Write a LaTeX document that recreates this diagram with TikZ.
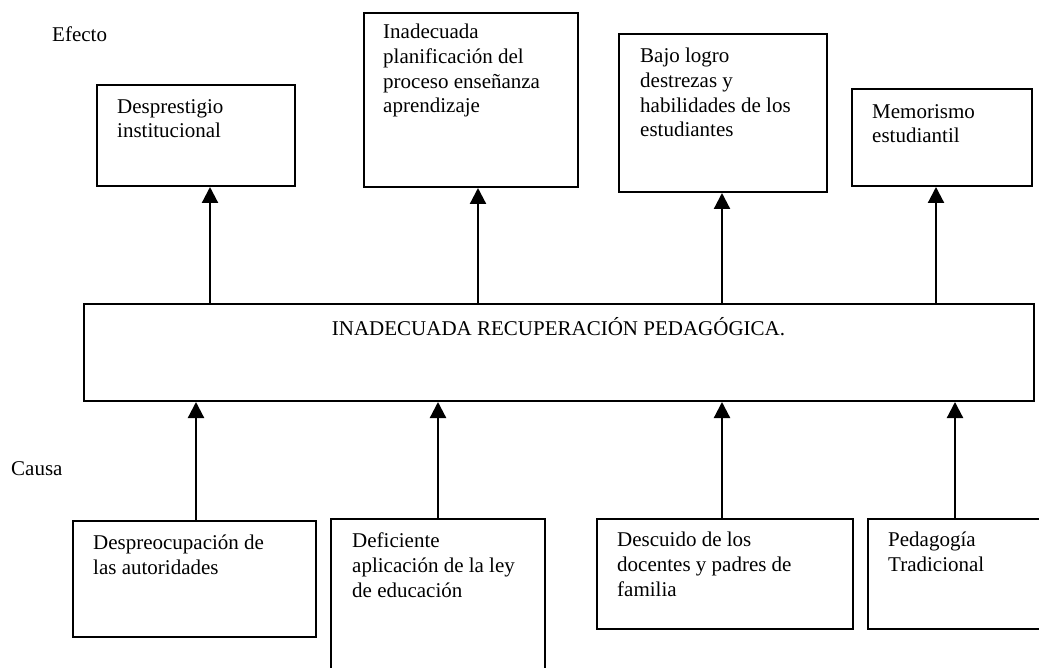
\documentclass[tikz,border=0pt]{standalone}
\usepackage{fontspec}
\setmainfont{Liberation Serif}
\usetikzlibrary{arrows.meta}
\tikzset{
  box/.style={draw, line width=2pt, inner sep=0, anchor=north west},
  txt/.style={font=\fontsize{21}{24.7}\selectfont, align=left, inner sep=0, anchor=base west},
  arr/.style={line width=2.2pt, -{Triangle[width=16pt,length=16pt]}}
}
\begin{document}
\begin{tikzpicture}[x=1pt,y=-1pt]
\useasboundingbox (0,0) rectangle (1039,668);
% labels
\node[txt] (efecto) at (52,42) {Efecto};
\node[txt] (causa) at (11,475) {Causa};
% top boxes (text nodes anchored at the baseline of their last line)
\node[box, minimum width=198, minimum height=101] (t1) at (96,84) {};
\node[txt] (t1t) at (117,138) {Desprestigio\\institucional};
\node[box, minimum width=214, minimum height=174] (t2) at (363,12) {};
\node[txt] (t2t) at (383,113) {Inadecuada\\planificación del\\proceso enseñanza\\aprendizaje};
\node[box, minimum width=208, minimum height=158] (t3) at (618,33) {};
\node[txt] (t3t) at (640,137) {Bajo logro\\destrezas y\\habilidades de los\\estudiantes};
\node[box, minimum width=180, minimum height=97] (t4) at (851,88) {};
\node[txt] (t4t) at (872,143) {Memorismo\\estudiantil};
% middle box
\node[box, minimum width=950, minimum height=97] (mid) at (83,303) {};
\node[txt, anchor=base] (midt) at (558.5,335) {INADECUADA RECUPERACIÓN PEDAGÓGICA.};
% bottom boxes
\node[box, minimum width=243, minimum height=116] (b1) at (72,520) {};
\node[txt] (b1t) at (93,574) {Despreocupación de\\las autoridades};
\node[box, minimum width=214, minimum height=170] (b2) at (330,518) {};
\node[txt] (b2t) at (352,597) {Deficiente\\aplicación de la ley\\de educación};
\node[box, minimum width=256, minimum height=110] (b3) at (596,518) {};
\node[txt] (b3t) at (617,596) {Descuido de los\\docentes y padres de\\familia};
\node[box, minimum width=190, minimum height=110] (b4) at (867,518) {};
\node[txt] (b4t) at (888,571) {Pedagogía\\Tradicional};
% arrow positions
\coordinate (x1) at (210,0);
\coordinate (x2) at (478,0);
\coordinate (x3) at (722,0);
\coordinate (x4) at (936,0);
\coordinate (y1) at (196,0);
\coordinate (y2) at (438,0);
\coordinate (y3) at (722,0);
\coordinate (y4) at (955,0);
% effect arrows
\draw[arr] (mid.north -| x1) -- (t1.south -| x1);
\draw[arr] (mid.north -| x2) -- (t2.south -| x2);
\draw[arr] (mid.north -| x3) -- (t3.south -| x3);
\draw[arr] (mid.north -| x4) -- (t4.south -| x4);
% cause arrows
\draw[arr] (b1.north -| y1) -- (mid.south -| y1);
\draw[arr] (b2.north -| y2) -- (mid.south -| y2);
\draw[arr] (b3.north -| y3) -- (mid.south -| y3);
\draw[arr] (b4.north -| y4) -- (mid.south -| y4);
\end{tikzpicture}
\end{document}
